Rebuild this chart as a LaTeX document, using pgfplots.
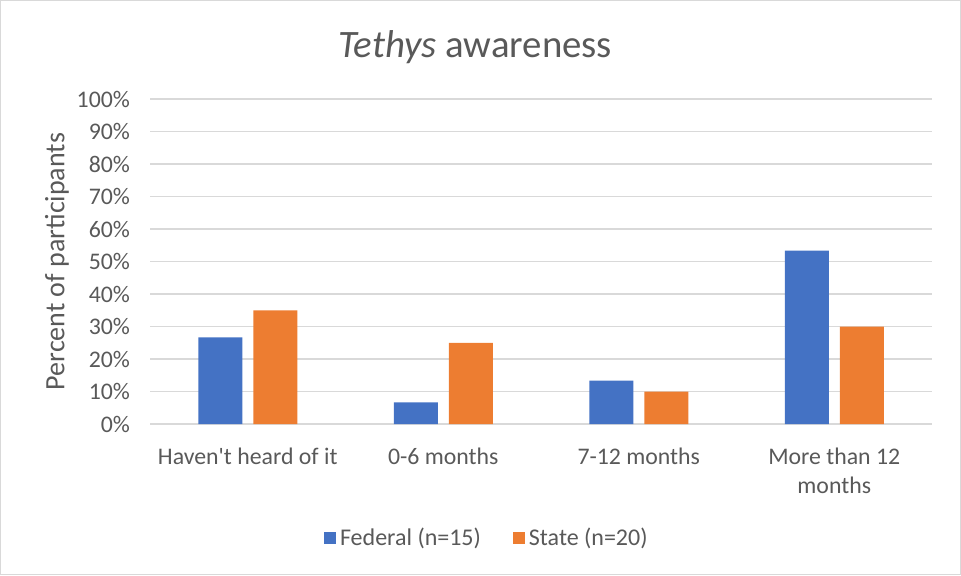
\documentclass[border=0pt]{standalone}
\usepackage{pgfplots}
\pgfplotsset{compat=1.18}
\usepackage{fontspec}
\setmainfont{Carlito}
\definecolor{fedblue}{HTML}{4472C4}
\definecolor{stateorange}{HTML}{ED7D31}
\definecolor{txt}{HTML}{595959}
\definecolor{gridc}{HTML}{D9D9D9}
\begin{document}
\begin{tikzpicture}
\draw[gridc, line width=0.5pt] (0.25pt,0.25pt) rectangle (480.25pt,287.25pt);
\node[text=txt, font=\fontsize{19.4}{22}\selectfont] at (237.5pt,264pt) {\textit{Tethys} awareness};
\begin{axis}[
  at={(75pt,75.5pt)}, anchor=south west,
  scale only axis, width=391pt, height=162.5pt,
  ybar=5.5pt, bar width=22pt,
  xmin=-0.5, xmax=3.5, ymin=0, ymax=100,
  xtick={0,1,2,3},
  xticklabels={Haven\textquotesingle t heard of it, 0-6 months, 7-12 months, {More than 12\\months}},
  xticklabel style={align=center, text=txt, font=\fontsize{11.9}{14.5}\selectfont, yshift=-8.5pt},
  ytick={0,10,...,100},
  yticklabel={\pgfmathprintnumber{\tick}\%},
  yticklabel style={text=txt, font=\fontsize{11.9}{13}\selectfont, xshift=-6.5pt},
  /pgf/number format/assume math mode=true,
  major tick length=0pt,
  ymajorgrids, grid style={gridc, line width=0.6pt},
  axis x line*=bottom, axis y line*=left,
  x axis line style={gridc, line width=0.6pt, -},
  y axis line style={draw=none},
  ylabel={Percent of participants},
  ylabel style={at={(axis description cs:-0.119,0.5)}, anchor=center, text=txt, font=\fontsize{14}{16}\selectfont},
  legend columns=2,
  legend style={draw=none, at={(axis description cs:0.432,-0.351)}, anchor=center,
    font=\fontsize{12}{13}\selectfont, text=txt,
    /tikz/every even column/.append style={column sep=14pt}},
  legend image code/.code={\fill[#1] (0pt,-3pt) rectangle (6pt,3pt);},
]
\addplot[draw=none, fill=fedblue] coordinates {(0,26.67) (1,6.67) (2,13.33) (3,53.33)};
\addplot[draw=none, fill=stateorange] coordinates {(0,35) (1,25) (2,10) (3,30)};
\legend{Federal (n=15), State (n=20)}
\end{axis}
\end{tikzpicture}
\end{document}
